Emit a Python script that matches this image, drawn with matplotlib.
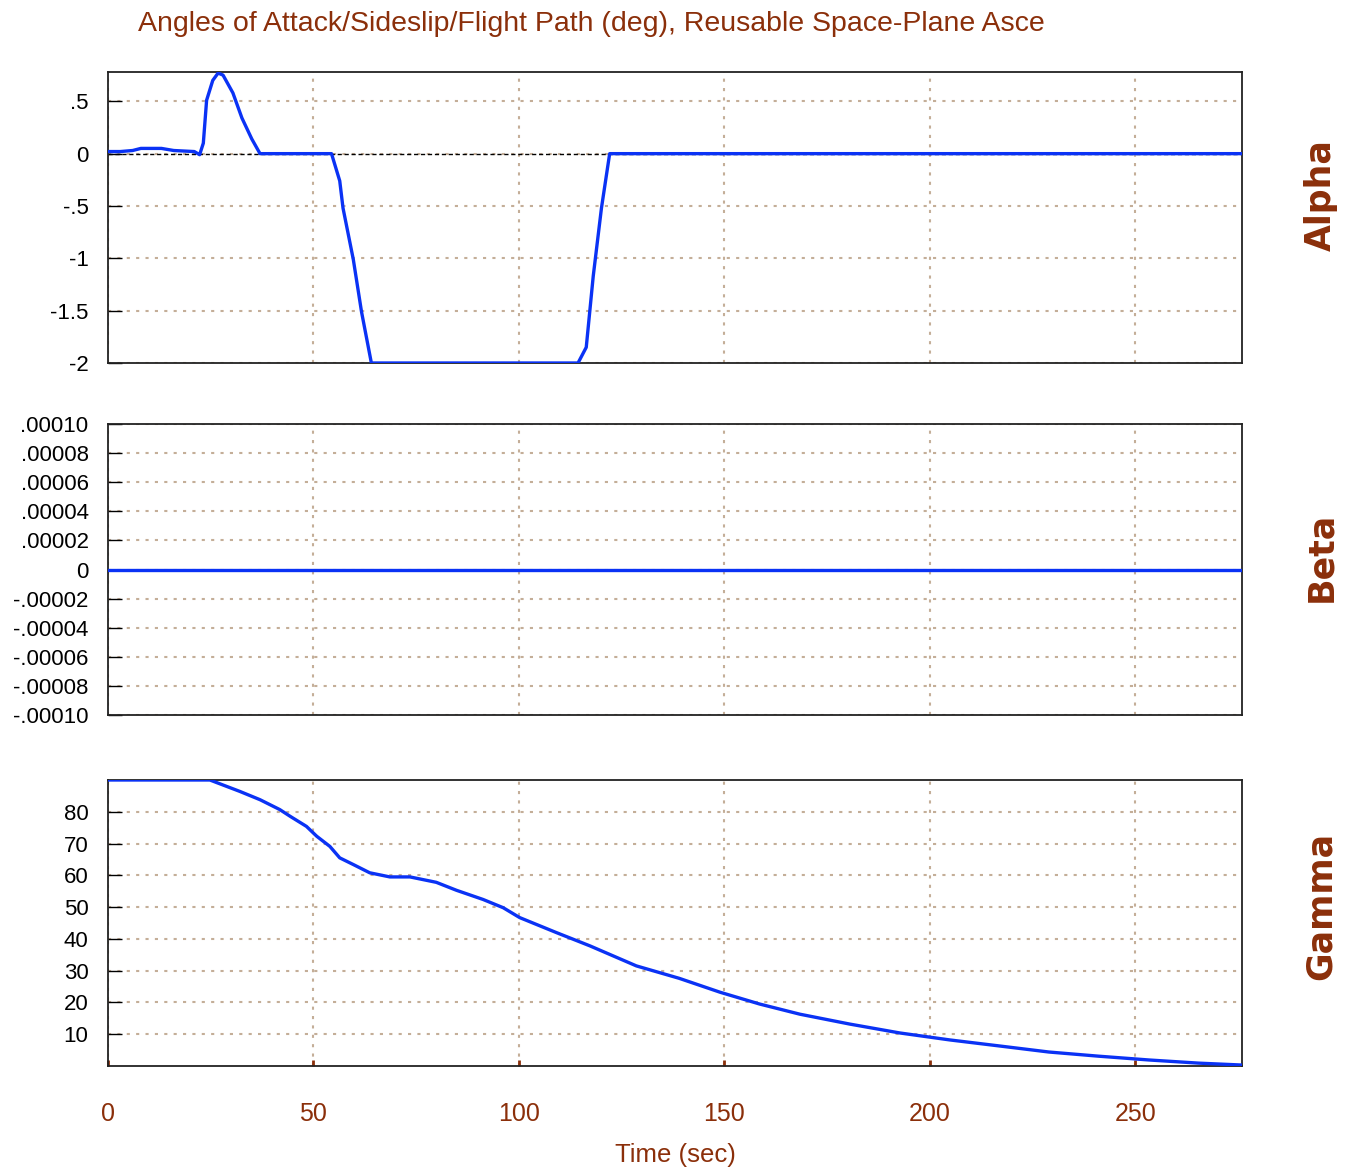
import matplotlib.pyplot as plt

# alpha (deg)
alpha_t = [0, 3, 6, 8, 13, 16, 21, 22.3, 23.2, 24, 25.5, 26.8, 28, 30.4, 32.6, 35, 37,
           54.4, 56.4, 57.2, 59.7, 61.7, 64.1, 114.4, 116.4, 118.1, 120.1, 122.1, 276]
alpha_v = [0.02, 0.02, 0.03, 0.05, 0.05, 0.03, 0.02, -0.01, 0.1, 0.51, 0.7, 0.77, 0.75, 0.58,
           0.34, 0.14, 0.0, 0.0, -0.26, -0.52, -1.01, -1.51, -2.0, -2.0, -1.85, -1.17, -0.52,
           0.0, 0.0]

# beta (deg)
beta_t = [0, 276]
beta_v = [0, 0]

# gamma (deg)
gamma_t = [0, 24.8, 32.1, 37, 41.8, 44.3, 48.3, 50.8, 54, 56.4, 59.7, 63.7, 68.6, 73.5,
           79.9, 84.8, 91.3, 96.2, 100.2, 109.1, 117.3, 128.6, 139, 149, 158.6, 168.4,
           180.5, 192.7, 204.9, 217, 229, 241, 253.3, 265.5, 276]
gamma_v = [90, 90, 86.4, 83.8, 80.7, 78.6, 75.4, 72.3, 69.1, 65.5, 63.4, 60.8, 59.5, 59.5,
           57.8, 55.3, 52.4, 49.8, 46.7, 42, 37.8, 31.5, 27.6, 23.2, 19.5, 16.3,
           13.2, 10.4, 8.2, 6.3, 4.4, 3.1, 1.9, 0.9, 0.3]

alpha_ticks = [0.5, 0, -0.5, -1, -1.5, -2]
alpha_labels = ['.5', '0', '-.5', '-1', '-1.5', '-2']
beta_ticks = [1e-4, 8e-5, 6e-5, 4e-5, 2e-5, 0, -2e-5, -4e-5, -6e-5, -8e-5, -1e-4]
beta_labels = ['.00010', '.00008', '.00006', '.00004', '.00002', '0',
               '-.00002', '-.00004', '-.00006', '-.00008', '-.00010']
gamma_ticks = [10, 20, 30, 40, 50, 60, 70, 80]
x_ticks = [0, 50, 100, 150, 200, 250]

brown = '#8b2f0a'
blue = '#0a32f5'
gridc = '#c4ae98'

plt.rcParams['font.family'] = ['Liberation Sans', 'DejaVu Sans']

dpi = 100
fig = plt.figure(figsize=(1351 / dpi, 1169 / dpi), dpi=dpi)

left = 108 / 1351
width = (1242 - 108) / 1351
boxes = [(72, 363), (424, 715), (780, 1066)]
axes = []
for top, bot in boxes:
    ax = fig.add_axes([left, 1 - bot / 1169, width, (bot - top) / 1169])
    axes.append(ax)

ax1, ax2, ax3 = axes

ax1.plot(alpha_t, alpha_v, color=blue, lw=2.4, zorder=3)
ax1.axhline(0, color='black', lw=1, ls=(0, (3, 2)), zorder=2)
ax1.set_ylim(-2, 0.78)
ax1.set_yticks(alpha_ticks)
ax1.set_yticklabels(alpha_labels)

ax2.plot(beta_t, beta_v, color=blue, lw=2.4, zorder=3)
ax2.set_ylim(-1e-4, 1e-4)
ax2.set_yticks(beta_ticks)
ax2.set_yticklabels(beta_labels)

ax3.plot(gamma_t, gamma_v, color=blue, lw=2.4, zorder=3)
ax3.set_ylim(0, 90)
ax3.set_yticks(gamma_ticks)

names = ['Alpha', 'Beta', 'Gamma']
name_y = [195, 557, 906]
for ax, name, ny in zip(axes, names, name_y):
    ax.set_xlim(0, 276)
    ax.set_xticks(x_ticks)
    ax.grid(True, color=gridc, ls=(0, (1.5, 3)), lw=1.5)
    for s in ax.spines.values():
        s.set_linewidth(1.3)
        s.set_color('#222222')
    ax.tick_params(axis='y', direction='in', length=10, width=1, color='black',
                   labelsize=16, pad=14, labelcolor='black')
    ax.tick_params(axis='x', direction='in', length=4, width=2, color=brown,
                   labelsize=18, labelcolor=brown, pad=26)
    fig.text(1321 / 1351, 1 - ny / 1169, name, rotation=90, ha='center',
             va='center', color=brown, fontsize=25, fontweight='bold', family='DejaVu Sans')

ax1.tick_params(axis='x', labelbottom=False, length=0)
ax2.tick_params(axis='x', labelbottom=False, length=0)

ax3.set_xlabel('Time (sec)', color=brown, fontsize=18.5, labelpad=12)

fig.text(138 / 1351, 1 - 24 / 1169,
         'Angles of Attack/Sideslip/Flight Path (deg), Reusable Space-Plane Asce',
         color=brown, fontsize=20.5, ha='left', va='center')

fig.savefig('out.png', dpi=dpi)
